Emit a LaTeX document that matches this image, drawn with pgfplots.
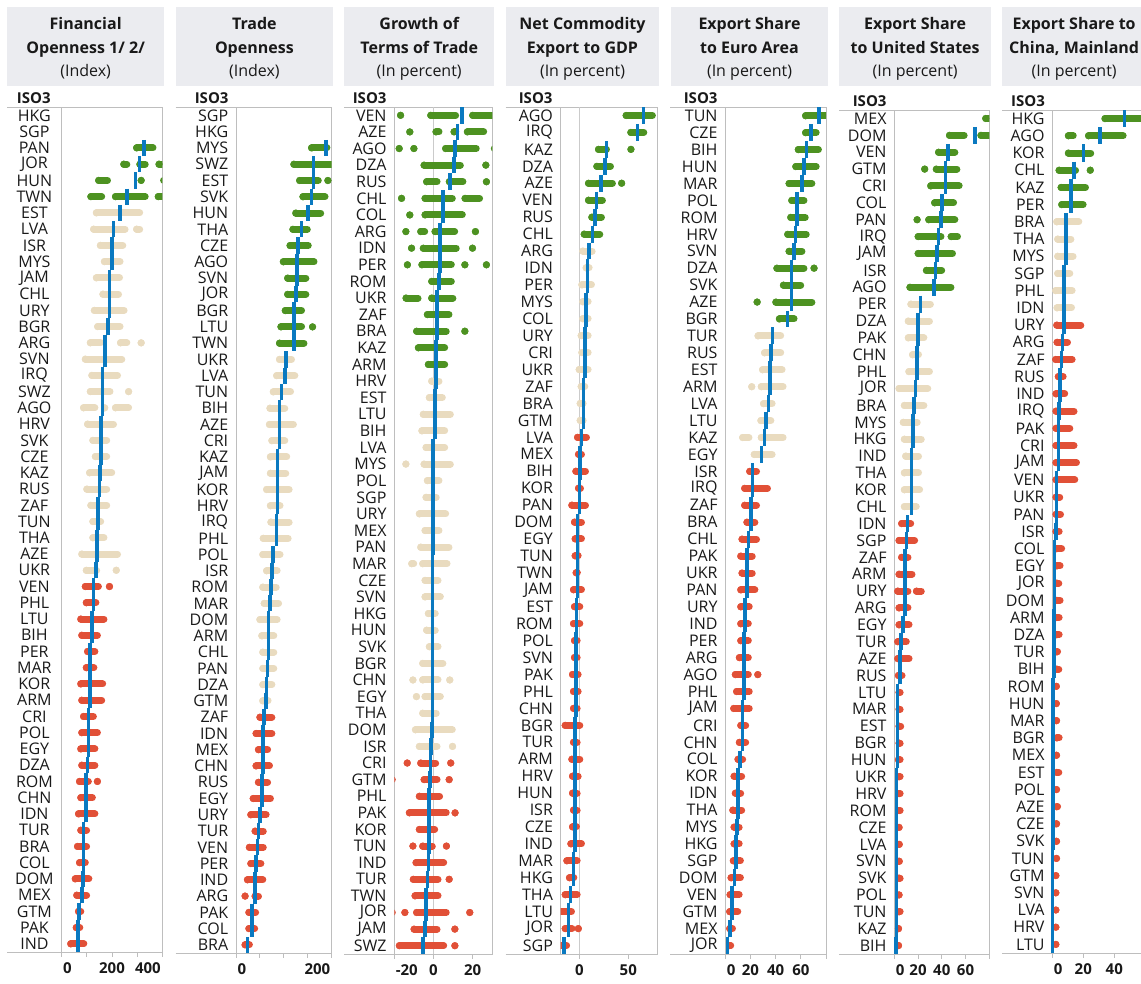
\documentclass[border=0pt]{standalone}
\usepackage{pgfplots}
\usepackage{pgfplotstable}
\pgfplotsset{compat=1.18}
\usepackage{fontspec}
\setmainfont{Open Sans}

\definecolor{hiGreen}{RGB}{77,146,33}
\definecolor{midBeige}{RGB}{233,219,191}
\definecolor{loRed}{RGB}{225,80,55}
\definecolor{meanBlue}{RGB}{10,121,192}
\definecolor{hdrGray}{RGB}{235,236,240}
\definecolor{rule}{RGB}{190,190,190}
\definecolor{ink}{RGB}{25,25,25}

\newcommand\labfont{\fontsize{16}{18}\selectfont}
\newcommand\isofont{\fontsize{15}{18}\selectfont}
\newcommand\tickfont{\bfseries\fontsize{15}{18}\selectfont}
\newcommand\hdrfont{\fontsize{16}{19}\selectfont}
\newcommand\lft[1]{\makebox[0pt][l]{\hspace{1.5pt}#1}}
\newcommand\rgt[1]{\makebox[0pt][r]{#1\hspace{1.5pt}}}

\pgfplotsset{
  strip/.style={
    scale only axis, anchor=north west, clip=true,
    axis line style={draw=rule, line width=0.9pt},
    y dir=reverse, ytick style={draw=none},
    xtick pos=bottom, tick align=outside, major tick length=4.5pt,
    xtick style={draw=rule, line width=0.9pt},
    yticklabel style={font=\labfont, text=ink, anchor=east, inner sep=0pt, xshift=-3.1pt},
    xticklabel style={font=\tickfont, text=ink, inner sep=0pt, anchor=north, yshift=-6pt},
    extra x tick style={grid=major, major tick length=0pt},
    major grid style={draw=rule!80, line width=0.9pt},
  },
  dots/.style={only marks, color=#1, mark=*, mark size=3.5pt,
    mark options={draw=#1, fill=#1, line width=0.1pt},
    error bars/x dir=plus, error bars/x explicit, error bars/error mark=none,
    error bars/error bar style={draw=#1, line width=7pt, line cap=round}},
  means/.style={only marks, color=meanBlue, mark=|, mark size=#1,
    mark options={draw=meanBlue, line width=3.6pt}},
}

% one strip per row: green rows up to #2, beige rows up to #3, red below
\newcommand\strips[3]{%
  \addplot[restrict y to domain=0:#2.5, dots=hiGreen]
    table[x=lo, y=y, x error expr=\thisrow{hi}-\thisrow{lo}] {#1};
  \addplot[restrict y to domain=#2.5:#3.5, dots=midBeige]
    table[x=lo, y=y, x error expr=\thisrow{hi}-\thisrow{lo}] {#1};
  \addplot[restrict y to domain=#3.5:200, dots=loRed]
    table[x=lo, y=y, x error expr=\thisrow{hi}-\thisrow{lo}] {#1};
}

\newcommand\header[5]{%
  \fill[hdrGray] (#1,-7.3) rectangle (#2,-85.7);
  \node[anchor=base, font=\hdrfont\bfseries, text=ink, inner sep=0pt] at ({(#1+#2)/2},-29.3) {#3};
  \node[anchor=base, font=\hdrfont\bfseries, text=ink, inner sep=0pt] at ({(#1+#2)/2},-53.3) {#4};
  \node[anchor=base, font=\hdrfont, text=ink, inner sep=0pt] at ({(#1+#2)/2},-76) {#5};
}

% ---------------- Financial openness ----------------
\pgfplotstableread{
y lab m
1 HKG nan
2 SGP nan
3 PAN 327
4 JOR 310
5 HUN 293
6 TWN 260
7 EST 233
8 LVA 206
9 ISR 200
10 MYS 200
11 JAM 190
12 CHL 190
13 URY 190
14 BGR 184
15 ARG 173
16 SVN 173
17 IRQ 162
18 SWZ 162
19 AGO 162
20 HRV 157
21 SVK 157
22 CZE 157
23 KAZ 153
24 RUS 150
25 ZAF 144
26 TUN 144
27 THA 140
28 AZE 140
29 UKR 136
30 VEN 126
31 PHL 126
32 LTU 120
33 BIH 120
34 PER 113
35 MAR 113
36 KOR 113
37 ARM 113
38 CRI 106
39 POL 106
40 EGY 106
41 DZA 102
42 ROM 97
43 CHN 97
44 IDN 97
45 TUR 86
46 BRA 86
47 COL 86
48 DOM 84
49 MEX 80
50 GTM 69
51 PAK 64
52 IND 64
}\rowsA
\pgfplotstableread{
y lo hi
3 298 363
4 247 259
4 311 332
4 387 420
5 147 182
5 316 316
5 405 405
6 116 159
6 214 332
6 384 420
7 138 310
8 127 252
8 298 310
9 154 243
10 170 232
11 138 230
12 164 226
13 130 248
14 143 232
15 114 155
15 234 259
15 316 316
16 94 239
17 120 222
18 114 192
18 266 266
19 87 132
19 171 171
19 214 266
20 103 206
21 124 179
22 134 179
23 111 199
24 100 179
25 116 179
26 124 155
27 124 168
28 80 222
29 98 139
29 217 217
30 94 146
30 190 190
31 98 136
32 76 168
33 80 142
34 103 132
35 98 128
36 76 163
37 80 159
38 87 126
39 80 142
40 76 132
41 80 132
42 71 106
42 142 142
43 76 122
44 67 132
45 76 99
46 63 99
47 71 94
48 54 108
49 60 99
50 67 76
51 58 72
52 36 88
}\segA

% ---------------- Trade openness ----------------
\pgfplotstableread{
y lab m
1 SGP nan
2 HKG nan
3 MYS 188
4 SWZ 162
5 EST 162
6 SVK 158
7 HUN 151
8 THA 137
9 CZE 130
10 AGO 127
11 SVN 127
12 JOR 125
13 BGR 121
14 LTU 121
15 TWN 121
16 UKR 105
17 LVA 102
18 TUN 95
19 BIH 91
20 AZE 91
21 CRI 91
22 KAZ 87
23 JAM 87
24 KOR 87
25 HRV 87
26 IRQ 85
27 PHL 85
28 POL 77
29 ISR 75
30 ROM 73
31 MAR 71
32 DOM 68
33 ARM 68
34 CHL 68
35 PAN 66
36 DZA 64
37 GTM 63
38 ZAF 59
39 IDN 56
40 MEX 56
41 CHN 56
42 RUS 54
43 EGY 54
44 URY 50
45 TUR 47
46 VEN 45
47 PER 42
48 IND 40
49 ARG 40
50 PAK 34
51 COL 34
52 BRA 24
}\rowsB
\pgfplotstableread{
y lo hi
3 158 190
4 121 205
5 133 172
5 192 192
6 140 186
7 125 177
8 119 149
9 113 151
10 99 163
11 108 146
12 108 146
13 103 137
14 94 137
14 160 160
15 91 142
16 91 116
17 85 123
18 78 114
19 71 102
20 70 120
21 75 102
22 72 106
23 72 104
24 64 111
25 72 92
26 73 111
27 57 109
28 56 92
29 64 86
30 56 84
31 59 89
32 50 86
33 54 79
34 56 79
35 56 79
36 56 75
37 56 67
38 50 75
39 42 75
40 47 66
41 42 70
42 47 66
43 36 72
44 31 63
45 40 57
46 28 57
47 31 52
48 24 56
49 19 19
49 40 47
50 27 41
51 27 39
52 19 28
}\segB

% ---------------- Growth of terms of trade ----------------
\pgfplotstableread{
y lab m
1 VEN 14.6
2 AZE 12.2
3 AGO 10.9
4 DZA 10.4
5 RUS 8.3
6 CHL 4.9
7 COL 4.9
8 ARG 3.2
9 IDN 3.2
10 PER 3.2
11 ROM 2.7
12 UKR 1.9
13 ZAF 1.9
14 BRA 1.9
15 KAZ 1.2
16 ARM 1.2
17 HRV 1.2
18 EST 0.7
19 LTU 0.7
20 BIH 0.7
21 LVA -0.2
22 MYS -0.2
23 POL -0.2
24 SGP -0.2
25 URY -0.2
26 MEX -0.3
27 PAN -0.3
28 MAR -0.5
29 CZE -0.5
30 SVN -0.5
31 HKG -0.5
32 HUN -0.5
33 SVK -0.5
34 BGR -0.5
35 CHN -0.5
36 EGY -0.5
37 THA -0.5
38 DOM -0.9
39 ISR -1.2
40 CRI -1.5
41 GTM -1.9
42 PHL -2.2
43 PAK -2.2
44 KOR -2.2
45 TUN -2.2
46 IND -2.6
47 TUR -3.1
48 TWN -3.9
49 JOR -3.9
50 JAM -4.4
51 SWZ -5.3
}\rowsC
\pgfplotstableread{
y lo hi
1 -16.8 -16.8
1 -1.4 11.3
1 20 32
2 -12.1 -12.1
2 1.3 2.8
2 10.5 11.3
2 17.3 25.6
3 -17.5 -17.5
3 -10 -10
3 6.2 21.8
3 31 31
4 -4.8 13.7
4 26.7 26.7
5 -3.5 1.8
5 8.1 15
5 27 27
6 -16.3 -16.3
6 -4.3 9.6
6 16.1 23.5
7 -12.1 -12.1
7 -4.3 14.7
8 -14.1 -14.1
8 -6.5 -4.5
8 0.8 10.8
8 21.4 21.4
9 -11.2 -11.2
9 -5.2 11.6
9 19.9 19.9
10 -13.3 -13.3
10 -5.9 9.1
10 16 16
10 27 27
11 -0.9 9.1
12 -14 -7.9
12 -0.9 9.9
13 -3.1 7.9
14 -8.6 6.5
14 16 16
15 -7.7 5.7
16 -2.6 5.7
17 -0.9 2.8
18 -2.1 4.5
19 -5.2 8.6
20 -5.9 5.7
21 -3.8 5.7
22 -14.1 -14.1
22 -4.8 8.6
23 -3.1 2.8
24 -3.8 1.4
25 -7.2 6.2
26 -4.3 2.8
27 -6.5 7.9
28 -11.1 -10.1
28 -5.5 6.9
29 -4.3 2.3
30 -4.3 3.5
31 -2.6 0.9
32 -3.5 0.9
33 -2.1 2.3
34 -5.5 4.8
35 -10.5 -10.5
35 -5.5 2.3
35 8.3 8.3
36 -8.7 -8.7
36 -4.3 3.5
37 -5.5 1.4
38 -9.2 9.6
39 -7.2 1.8
39 9.7 9.7
40 -13.4 -13.4
40 -6.5 1.1
40 8.8 8.8
41 -21 -21
41 -4.8 1.8
41 8 8
42 -7.2 3.1
43 -12.3 6.5
43 11 11
44 -7.2 0.6
45 -10.5 -10.5
45 -5.5 -0.6
45 6.6 6.6
46 -8.9 5.2
47 -10.3 2.3
47 8 8
48 -9.4 2.3
49 -21 -21
49 -14.6 -14.6
49 -8.6 6.5
49 18.5 18.5
50 -9.9 1.8
50 10.9 10.9
51 -17.4 5.2
51 10.9 10.9
}\segC

% ---------------- Net commodity exports ----------------
\pgfplotstableread{
y lab m
1 AGO 65.3
2 IRQ 59.5
3 KAZ 27.9
4 DZA 26.2
5 AZE 22.1
6 VEN 17.7
7 RUS 16
8 CHL 13.6
9 ARG 9.9
10 IDN 8.2
11 PER 8.2
12 MYS 6.8
13 COL 6.8
14 URY 5.8
15 CRI 5.8
16 UKR 5.8
17 ZAF 4.1
18 BRA 4.1
19 GTM 4.1
20 LVA 2.4
21 MEX 0.7
22 BIH 0.7
23 KOR 0
24 PAN 0
25 DOM -1.7
26 EGY -1.7
27 TUN -1.7
28 TWN -1.7
29 JAM -1.7
30 EST -2.7
31 ROM -2.7
32 POL -3.4
33 SVN -3.4
34 PAK -3.4
35 PHL -3.4
36 CHN -3.4
37 BGR -4.4
38 TUR -4.4
39 ARM -4.4
40 HRV -4.4
41 HUN -4.4
42 ISR -4.4
43 CZE -4.4
44 IND -4.4
45 MAR -6.1
46 HKG -6.1
47 THA -8.8
48 LTU -11.2
49 JOR -11.2
50 SGP -15.6
}\rowsD
\pgfplotstableread{
y lo hi
1 47.8 74.6
2 52.6 65.8
3 19.6 27.7
3 52.7 52.7
4 17.9 31.8
5 9.4 33.8
5 43.2 43.2
6 9.4 23.6
7 12.8 22.6
8 5 20.9
9 3.6 13.1
10 7 10
11 2.6 12.4
12 3.6 9
13 3.6 9
14 1.9 9
15 2.6 9
16 -0.1 9
17 1.9 5.6
18 0.9 3.9
19 0.9 3.9
20 -1.8 7.3
21 -0.8 2.2
22 -3.5 6.3
23 -0.8 1.2
24 -7.6 6.3
25 -4.9 2.2
26 -4.2 2.2
27 -4.2 -1.2
28 -3.2 -2
29 -5.9 2.2
30 -4.9 0.5
31 -5.9 0.5
32 -4.9 -2.2
33 -4.9 -2.2
34 -6.9 -1.2
35 -5.9 -1.2
36 -5.9 -2.2
37 -14.4 0.5
38 -5.9 -2.2
39 -7.6 0.5
40 -6.9 -1.2
41 -6.9 -2.2
42 -5.9 -2.2
43 -6.9 -2.9
44 -8.6 2.2
45 -12.7 -2.2
46 -10 -5.6
47 -14.4 -2.2
48 -21 -8
49 -14.4 -7.5
49 -1 -1
50 -21 -13
}\segD

% ---------------- Export share to the euro area ----------------
\pgfplotstableread{
y lab m
1 TUN 74.2
2 CZE 67.9
3 BIH 64.5
4 HUN 62.6
5 MAR 61.1
6 POL 56.8
7 ROM 56.8
8 HRV 55.8
9 SVN 54.7
10 DZA 52.6
11 SVK 52.6
12 AZE 52.6
13 BGR 49.5
14 TUR 37.6
15 RUS 36.3
16 EST 35.5
17 ARM 35.5
18 LVA 34.2
19 LTU 32.1
20 KAZ 31
21 EGY 28.9
22 ISR 21.6
23 IRQ 21.6
24 ZAF 20.5
25 BRA 20.5
26 CHL 18.4
27 PAK 17.1
28 UKR 17.1
29 PAN 17.1
30 URY 15.8
31 IND 15.8
32 PER 15
33 ARG 15
34 AGO 15
35 PHL 15
36 JAM 13.7
37 CRI 13.7
38 CHN 13.7
39 COL 11.8
40 KOR 10
41 IDN 10
42 THA 10
43 MYS 9.5
44 HKG 8.7
45 SGP 8.7
46 DOM 7.4
47 VEN 5.3
48 GTM 5.3
49 MEX 3.9
50 JOR 1.6
}\rowsE
\pgfplotstableread{
y lo hi
1 63.8 82
2 63.8 72.2
3 58 74
4 56 72.2
5 50.7 68.8
6 52.8 62.5
7 52 63.5
8 49.6 64.3
9 50.7 60.9
10 41 62.5
10 70.5 70.5
11 46.2 59.9
12 25.3 25.3
12 40.2 68.8
13 43 54.6
14 26 44
15 31.2 44
16 29.6 45.1
17 21 21
17 28.6 45.9
18 30.4 37.2
19 28.3 36.2
20 13.8 18.8
20 28.6 45.9
21 23 37.2
22 19.4 24.8
23 15.4 33.5
24 15.4 24.8
25 17.2 23.5
26 13.3 24.8
27 12.3 21.4
28 13.3 21.4
29 12.3 23.5
30 12.3 19
31 12.3 18.3
32 12.3 18.3
33 11.2 18.3
34 8 18.3
34 25.8 25.8
35 9 19
36 6.7 19
37 12.3 16.2
38 11.2 16.2
39 10.1 13.8
40 7 13
41 8 12.2
42 6 13
43 7 11
44 7 11
45 6.4 12
46 4.6 12
47 3.8 11
48 3.5 9.9
49 3.5 5.7
50 3.5 4.3
}\segE

% ---------------- Export share to the United States ----------------
\pgfplotstableread{
y lab m
1 MEX nan
2 DOM 67.8
3 VEN 45
4 GTM 43
5 CRI 43
6 COL 40.3
7 PAN 39.4
8 IRQ 37.2
9 JAM 36.1
10 ISR 34.7
11 AGO 33.3
12 PER 22.2
13 DZA 20
14 PAK 20
15 CHN 19.2
16 PHL 19.2
17 JOR 17.8
18 BRA 16.7
19 MYS 15.8
20 HKG 15.8
21 IND 14.4
22 THA 14.4
23 KOR 14.4
24 CHL 14.4
25 IDN 11.1
26 SGP 10.3
27 ZAF 8.9
28 ARM 8.9
29 URY 8.9
30 ARG 8.9
31 EGY 7.5
32 TUR 5.6
33 AZE 4.7
34 RUS 4.7
35 LTU 2.8
36 MAR 2.8
37 EST 2.8
38 BGR 2.8
39 HUN 2.8
40 UKR 1.9
41 HRV 1.9
42 ROM 1.9
43 CZE 1.9
44 LVA 1.9
45 SVN 1.9
46 SVK 1.9
47 POL 1.9
48 TUN 1.9
49 KAZ 1.9
50 BIH 1.4
}\rowsF
\pgfplotstableread{
y lo hi
1 77 85
2 46.5 58.8
2 73 85
3 37.3 51
4 25.6 25.6
4 35.4 52.7
5 30.7 54.6
6 34 49.9
7 19.2 19.2
7 29 51
8 20.1 39.3
8 47.9 53.2
9 20.1 49
10 27.1 39.9
11 13.2 47.7
12 14 30.4
13 11.8 29.6
14 11.8 24.9
15 15.4 20.4
16 12.3 29.6
17 4 28.2
18 8.5 24.9
19 7.6 19.3
20 8.5 22.7
21 9.6 20.4
22 8.5 20.4
23 8.5 21.3
24 8.5 18.5
25 6.2 13.8
26 4 17.1
27 6.2 11.5
28 4 14.9
29 2.9 11.5
29 18.7 22.7
30 4 11.5
31 4 12.4
32 2.9 10.1
33 2.9 12.4
34 3.5 6.5
35 4 4.9
36 4 4.9
37 4 5.4
38 4 4.9
39 3.5 4.9
40 4 4.9
41 4 4.9
42 4 4.9
43 4 4
44 4 4.3
45 4 4.3
46 4 4.9
47 4 4
48 4 4.9
49 3.5 3.6
50 3.5 3.6
}\segF

% ---------------- Export share to China, Mainland ----------------
\pgfplotstableread{
y lab m
1 HKG 46.5
2 AGO 30.8
3 KOR 20
4 CHL 14
5 KAZ 12
6 PER 12
7 BRA 8.8
8 THA 8.8
9 MYS 8.8
10 SGP 7.7
11 PHL 7.5
12 IDN 7.5
13 URY 7.5
14 ARG 6.7
15 ZAF 6
16 RUS 4.9
17 IND 4.9
18 IRQ 4.5
19 PAK 3.9
20 CRI 3.9
21 JAM 3.9
22 VEN 2.8
23 UKR 2.8
24 PAN 2.8
25 ISR 2.4
26 COL 1.3
27 EGY 1.3
28 JOR 1.3
29 DOM 1.3
30 ARM 0.9
31 DZA 0.9
32 TUR 0.9
33 BIH 0.9
34 ROM 0.6
35 HUN 0.6
36 MAR 0.6
37 BGR 0.6
38 MEX 0.6
39 EST 0.6
40 POL 0.6
41 AZE 0.6
42 CZE 0.6
43 SVK 0.6
44 TUN 0.2
45 GTM 0.2
46 SVN 0.2
47 LVA 0.2
48 HRV 0.2
49 LTU 0.2
}\rowsG
\pgfplotstableread{
y lo hi
1 34 60
2 10.4 13.5
2 23.4 45.7
3 10.4 24.8
4 4.4 15
4 24.5 24.5
5 5.7 21.4
6 6.1 19.9
7 2.9 17.1
8 3.5 12
9 3.5 13.4
10 3.5 11.3
11 2.2 12.8
12 3.1 12.4
13 2.9 18.4
14 3.1 9.8
15 2.2 12.8
16 3.9 7
17 2.4 8
18 2.4 14
19 2.4 11.3
20 2.4 14
21 2.4 15.6
22 2.4 14.5
23 2.4 4.8
24 2.4 5.3
25 2.4 4.4
26 2.9 6
27 2.9 5
28 2.9 4.2
29 2.9 5
30 2.9 4.4
31 2.9 4.4
32 2.9 3.4
33 2.9 4.2
34 2.6 2.6
35 2.6 2.6
36 2.6 2.8
37 2.9 4.4
38 2.6 2.8
39 2.9 4.2
40 2.6 2.8
41 2.9 3.4
42 2.6 2.8
43 2.6 2.8
44 2.6 2.8
45 2.3 2.3
46 2.3 2.3
47 2.3 2.3
48 2.3 2.3
49 2.3 2.3
}\segG

\begin{document}
\begin{tikzpicture}[x=1pt, y=1pt]
\path[use as bounding box] (0,0) rectangle (1141,-983);

% headers
\header{7.3}{164}{Financial}{Openness 1/ 2/}{(Index)}
\header{176}{332.7}{Trade}{Openness}{(Index)}
\header{344.4}{494}{Growth of}{Terms of Trade}{(In percent)}
\header{506}{659}{Net Commodity}{Export to GDP}{(In percent)}
\header{671.3}{827.7}{Export Share}{to Euro Area}{(In percent)}
\header{839.3}{991}{Export Share}{to United States}{(In percent)}
\header{1002.3}{1146}{Export Share to}{China, Mainland}{(In percent)}

% row-label column headings
\node[anchor=base, font=\isofont\bfseries, text=ink, inner sep=0pt] at (33.7,-103.3) {ISO3};
\node[anchor=base east, font=\isofont\bfseries, text=ink, inner sep=0pt] at (228.7,-103.3) {ISO3};
\node[anchor=base east, font=\isofont\bfseries, text=ink, inner sep=0pt] at (386.7,-103.3) {ISO3};
\node[anchor=base east, font=\isofont\bfseries, text=ink, inner sep=0pt] at (552.7,-103.3) {ISO3};
\node[anchor=base east, font=\isofont\bfseries, text=ink, inner sep=0pt] at (717.7,-103.3) {ISO3};
\node[anchor=base east, font=\isofont\bfseries, text=ink, inner sep=0pt] at (886.7,-106.3) {ISO3};
\node[anchor=base east, font=\isofont\bfseries, text=ink, inner sep=0pt] at (1045,-106.3) {ISO3};

% rules framing the label columns
\begin{scope}[draw=rule, line width=0.9pt]
\draw (7.3,-107.3) -- (61.7,-107.3);   \draw (7.3,-952) -- (61.7,-952);
\draw (175.7,-107.3) -- (236,-107.3);  \draw (175.7,-953) -- (236,-953);
\draw (344,-107) -- (394.3,-107);      \draw (344,-954) -- (394.3,-954);
\draw (505.7,-107) -- (560.7,-107);    \draw (505.7,-954) -- (560.7,-954);
\draw (670,-107.3) -- (725.3,-107.3);  \draw (670,-954) -- (725.3,-954);
\draw (839,-110) -- (894.3,-110);      \draw (839,-954) -- (894.3,-954);
\draw (1002.3,-110) -- (1052.3,-110);  \draw (1002.3,-953) -- (1052.3,-953);
\end{scope}

\begin{axis}[strip, at={(61.7pt,-107.3pt)}, width=100.6pt, height=844.7pt,
  xmin=0, xmax=400, ymin=0.5, ymax=52.5,
  xtick={0,100,200,300,400}, xticklabels={\lft{0},,200,,\rgt{400}},
  ytick={1,...,52}, yticklabels from table={\rowsA}{lab},
  yticklabel style={anchor=center, xshift=-19.7pt}]
  \strips{\segA}{6}{29}
  \addplot[means=8.12pt] table[x=m, y=y] {\rowsA};
\end{axis}

\begin{axis}[strip, at={(236pt,-107.3pt)}, width=95.7pt, height=845.7pt,
  xmin=0, xmax=200, ymin=0.5, ymax=52.5,
  xtick={0,50,100,150,200}, xticklabels={\lft{0},,,,\rgt{200}},
  ytick={1,...,52}, yticklabels from table={\rowsB}{lab}]
  \strips{\segB}{15}{37}
  \addplot[means=8.13pt] table[x=m, y=y] {\rowsB};
\end{axis}

\begin{axis}[strip, at={(394.3pt,-107pt)}, width=98pt, height=847pt,
  xmin=-20, xmax=30, ymin=0.5, ymax=51.5,
  xtick={-20,0,20}, xticklabels={\lft{-20},0,20},
  extra x ticks={0}, extra x tick labels={},
  ytick={1,...,51}, yticklabels from table={\rowsC}{lab}]
  \strips{\segC}{16}{39}
  \addplot[means=8.3pt] table[x=m, y=y] {\rowsC};
\end{axis}

\begin{axis}[strip, at={(560.7pt,-107pt)}, width=97pt, height=847pt,
  xmin=-19, xmax=80, ymin=0.5, ymax=50.5,
  xtick={0,50}, xticklabels={0,50},
  extra x ticks={0}, extra x tick labels={},
  ytick={1,...,50}, yticklabels from table={\rowsD}{lab}]
  \strips{\segD}{8}{19}
  \addplot[means=8.47pt] table[x=m, y=y] {\rowsD};
\end{axis}

\begin{axis}[strip, at={(725.3pt,-107.3pt)}, width=100.7pt, height=846.7pt,
  xmin=0, xmax=80, ymin=0.5, ymax=50.5,
  xtick={0,20,40,60,80}, xticklabels={\lft{0},20,40,60,},
  ytick={1,...,50}, yticklabels from table={\rowsE}{lab}]
  \strips{\segE}{13}{21}
  \addplot[means=8.47pt] table[x=m, y=y] {\rowsE};
\end{axis}

\begin{axis}[strip, at={(894.3pt,-110pt)}, width=95pt, height=844pt,
  xmin=0, xmax=80, ymin=0.5, ymax=50.5,
  xtick={0,20,40,60,80}, xticklabels={\lft{0},20,40,60,},
  ytick={1,...,50}, yticklabels from table={\rowsF}{lab}]
  \strips{\segF}{11}{24}
  \addplot[means=8.44pt] table[x=m, y=y] {\rowsF};
\end{axis}

\begin{axis}[strip, at={(1052.3pt,-110pt)}, width=93pt, height=843pt,
  xmin=0, xmax=60, ymin=0.5, ymax=49.5,
  xtick={0,20,40,60}, xticklabels={\lft{0},20,40,},
  ytick={1,...,49}, yticklabels from table={\rowsG}{lab}]
  \strips{\segG}{6}{12}
  \addplot[means=8.6pt] table[x=m, y=y] {\rowsG};
\end{axis}
\end{tikzpicture}
\end{document}
